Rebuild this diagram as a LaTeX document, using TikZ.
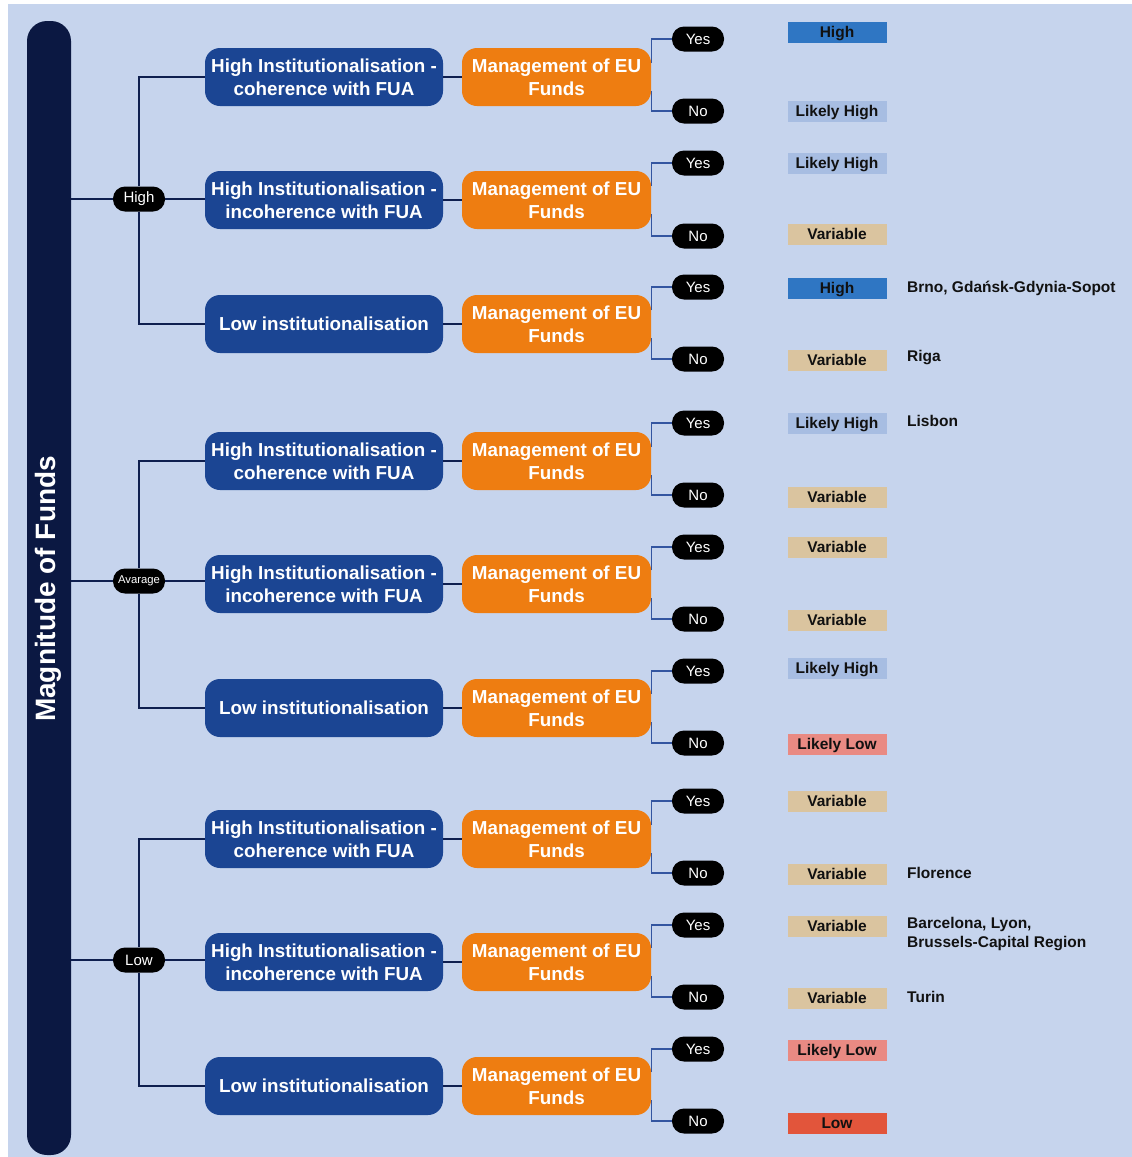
\documentclass[tikz,border=0pt]{standalone}
\usepackage{fontspec}
\setmainfont{Liberation Sans}
\usetikzlibrary{backgrounds}
\definecolor{bgc}{HTML}{C6D4ED}
\definecolor{barc}{HTML}{0B1842}
\definecolor{instc}{HTML}{1B4593}
\definecolor{orgc}{HTML}{EE7D11}
\definecolor{treec}{HTML}{0F1F4F}
\definecolor{brkc}{HTML}{3355A0}
\definecolor{txtc}{HTML}{111111}
\definecolor{highc}{HTML}{2F76C3}
\definecolor{lhighc}{HTML}{A7BDE2}
\definecolor{varc}{HTML}{DAC49F}
\definecolor{llowc}{HTML}{E98A83}
\definecolor{lowc}{HTML}{E2553B}
\begin{document}
\begin{tikzpicture}[x=1pt,y=-1pt,
  inst/.style={fill=instc, rounded corners=15pt, minimum width=238pt, minimum height=58pt,
    text=white, font=\bfseries\fontsize{18.8}{23}\selectfont, align=center, inner sep=0pt},
  mgmt/.style={fill=orgc, rounded corners=15pt, minimum width=189pt, minimum height=58pt,
    text=white, font=\bfseries\fontsize{18.8}{23}\selectfont, align=center, inner sep=0pt},
  pill/.style={fill=black, rounded corners=12pt, minimum width=52pt, minimum height=25pt,
    text=white, font=\fontsize{15}{18}\selectfont, inner sep=0pt},
  res/.style={minimum width=99pt, minimum height=21pt, inner sep=0pt,
    text height=11.1pt, text depth=0pt,
    font=\bfseries\fontsize{15.5}{18}\selectfont, text=txtc},
  resH/.style={fill=highc}, resLH/.style={fill=lhighc}, resV/.style={fill=varc},
  resLL/.style={fill=llowc}, resL/.style={fill=lowc},
  city/.style={anchor=west, font=\bfseries\fontsize{15.5}{19}\selectfont, align=left,
    inner sep=0pt, text=txtc},
  tree/.style={draw=treec, line width=1.6pt},
  brk/.style={draw=brkc, line width=1.3pt}]
\useasboundingbox (0,0) rectangle (1132,1157);
\fill[white] (0,0) rectangle (1132,1157);
\fill[bgc] (8,4) rectangle (1132,1157);

% left bar
\node[fill=barc, rounded corners=20pt, minimum width=44pt, minimum height=1134pt, inner sep=0pt] (bar) at (49,588) {};
\node[rotate=90, text=white, font=\bfseries\fontsize{28}{30}\selectfont] (bartxt) at (48,589) {Magnitude of Funds};

% level pills
\node[pill] (lvH) at (139,199) {High};
\node[pill, font=\fontsize{11.3}{13}\selectfont] (lvA) at (139,581) {Avarage};
\node[pill] (lvL) at (139,960) {Low};

% institutionalisation boxes
\node[inst] (i1) at (324,77) {High Institutionalisation -\\coherence with FUA};
\node[inst] (i2) at (324,200) {High Institutionalisation -\\incoherence with FUA};
\node[inst] (i3) at (324,324) {Low institutionalisation};
\node[inst] (i4) at (324,461) {High Institutionalisation -\\coherence with FUA};
\node[inst] (i5) at (324,584) {High Institutionalisation -\\incoherence with FUA};
\node[inst] (i6) at (324,708) {Low institutionalisation};
\node[inst] (i7) at (324,839) {High Institutionalisation -\\coherence with FUA};
\node[inst] (i8) at (324,962) {High Institutionalisation -\\incoherence with FUA};
\node[inst] (i9) at (324,1086) {Low institutionalisation};

% management boxes, yes/no pills, connectors
\foreach \i/\y/\ty/\ny in {1/77/39/111, 2/200/163/236, 3/324/287/359, 4/461/423/495,
  5/584/547/619, 6/708/671/743, 7/839/801/873, 8/962/925/997, 9/1086/1049/1121} {
  \node[mgmt] (m\i) at (556.5,\y) {Management of EU\\Funds};
  \node[pill] (y\i) at (698,\ty) {Yes};
  \node[pill] (n\i) at (698,\ny) {No};
  \draw[tree] (i\i.east) -- (m\i.west);
  \draw[brk] ([yshift=14pt]m\i.east) |- (y\i.west);
  \draw[brk] ([yshift=-14pt]m\i.east) |- (n\i.west);
}

% tree connectors
\draw[tree] (bar.east |- lvH) -- (lvH.west);
\draw[tree] (bar.east |- lvA) -- (lvA.west);
\draw[tree] (bar.east |- lvL) -- (lvL.west);
\draw[tree] (lvH.east) -- (i2.west |- lvH);
\draw[tree] (lvA.east) -- (i5.west |- lvA);
\draw[tree] (lvL.east) -- (i8.west |- lvL);
\draw[tree] (i1.west) -| (lvH.north);
\draw[tree] (lvH.south) |- (i3.west);
\draw[tree] (i4.west) -| (lvA.north);
\draw[tree] (lvA.south) |- (i6.west);
\draw[tree] (i7.west) -| (lvL.north);
\draw[tree] (lvL.south) |- (i9.west);

% results
\foreach \i/\y/\c/\t in {1/32/resH/High, 2/111/resLH/Likely High, 3/163/resLH/Likely High,
  4/234/resV/Variable, 5/288/resH/High, 6/360/resV/Variable, 7/423/resLH/Likely High,
  8/497/resV/Variable, 9/547/resV/Variable, 10/620/resV/Variable, 11/668/resLH/Likely High,
  12/744/resLL/Likely Low, 13/801/resV/Variable, 14/874/resV/Variable, 15/926/resV/Variable,
  16/998/resV/Variable, 17/1050/resLL/Likely Low, 18/1123/resL/Low} {
  \node[res,\c] (r\i) at (837,\y) {\t};
}

% cities
\node[city] (c1) at (907,288) {Brno, Gdańsk-Gdynia-Sopot};
\node[city] (c2) at (907,358) {Riga};
\node[city] (c3) at (907,421) {Lisbon};
\node[city] (c4) at (907,873) {Florence};
\node[city] (c5) at (907,934) {Barcelona, Lyon,\\Brussels-Capital Region};
\node[city] (c6) at (907,997) {Turin};
\end{tikzpicture}
\end{document}
